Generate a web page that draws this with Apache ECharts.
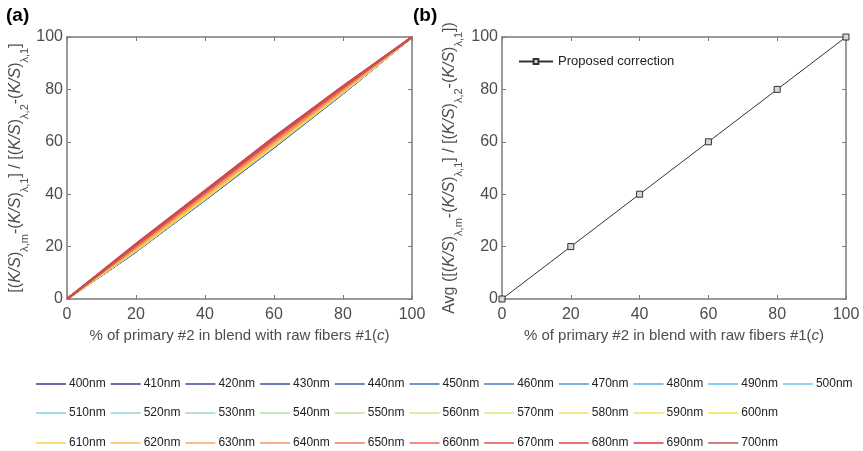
<!DOCTYPE html>
<html>
<head>
<meta charset="utf-8">
<script src="https://cdn.jsdelivr.net/npm/echarts@6/dist/echarts.min.js"></script>
<style>
  html, body { margin: 0; padding: 0; background: #fff; }
  #chart { width: 863px; height: 451px; }
</style>
</head>
<body>
<div id="chart"></div>
<script>
// x positions (% of primary #2)
var percent = [0, 20, 40, 60, 80, 100];

// panel (a): one curve per wavelength
var nm400 = [0, 18.2, 37.9, 57.9, 78.5, 100];
var nm410 = [0, 18.2, 37.9, 57.9, 78.5, 100];
var nm420 = [0, 18.3, 38.0, 58.0, 78.6, 100];
var nm430 = [0, 18.3, 38.0, 58.0, 78.6, 100];
var nm440 = [0, 18.3, 38.0, 58.1, 78.6, 100];
var nm450 = [0, 18.4, 38.1, 58.1, 78.7, 100];
var nm460 = [0, 18.4, 38.1, 58.2, 78.7, 100];
var nm470 = [0, 18.4, 38.2, 58.2, 78.7, 100];
var nm480 = [0, 18.5, 38.2, 58.3, 78.8, 100];
var nm490 = [0, 18.5, 38.3, 58.3, 78.8, 100];
var nm500 = [0, 18.5, 38.3, 58.4, 78.8, 100];
var nm510 = [0, 18.5, 38.3, 58.4, 78.9, 100];
var nm520 = [0, 18.5, 38.3, 58.4, 78.9, 100];
var nm530 = [0, 18.5, 38.4, 58.4, 78.9, 100];
var nm540 = [0, 18.6, 38.4, 58.5, 78.9, 100];
var nm550 = [0, 18.6, 38.4, 58.5, 78.9, 100];
var nm560 = [0, 18.6, 38.4, 58.5, 79.0, 100];
var nm570 = [0, 18.6, 38.5, 58.5, 79.0, 100];
var nm580 = [0, 18.6, 38.5, 58.6, 79.0, 100];
var nm590 = [0, 18.7, 38.5, 58.6, 79.0, 100];
var nm600 = [0, 18.7, 38.6, 58.7, 79.1, 100];
var nm610 = [0, 18.9, 38.8, 58.9, 79.2, 100];
var nm620 = [0, 19.1, 39.1, 59.2, 79.4, 100];
var nm630 = [0, 19.4, 39.5, 59.6, 79.7, 100];
var nm640 = [0, 19.7, 39.9, 60.0, 80.0, 100];
var nm650 = [0, 20.0, 40.3, 60.5, 80.3, 100];
var nm660 = [0, 20.3, 40.6, 60.9, 80.6, 100];
var nm670 = [0, 20.6, 40.9, 61.3, 80.9, 100];
var nm680 = [0, 20.9, 41.2, 61.6, 81.1, 100];
var nm690 = [0, 21.1, 41.4, 61.8, 81.3, 100];
var nm700 = [0, 20.6, 41.0, 61.3, 80.9, 100];

var curves = [nm400, nm410, nm420, nm430, nm440, nm450, nm460, nm470, nm480, nm490, nm500,
              nm510, nm520, nm530, nm540, nm550, nm560, nm570, nm580, nm590, nm600,
              nm610, nm620, nm630, nm640, nm650, nm660, nm670, nm680, nm690, nm700];
var names = ['400nm', '410nm', '420nm', '430nm', '440nm', '450nm', '460nm', '470nm', '480nm', '490nm', '500nm',
             '510nm', '520nm', '530nm', '540nm', '550nm', '560nm', '570nm', '580nm', '590nm', '600nm',
             '610nm', '620nm', '630nm', '640nm', '650nm', '660nm', '670nm', '680nm', '690nm', '700nm'];
var colors = ['#3a3a8c', '#3d4090', '#3f4694', '#3f4f9a', '#4060a8', '#4470b4', '#4a80c0', '#5096d2', '#58b0e4', '#60c0ea', '#6cc8ea',
              '#80d0e0', '#90d4d4', '#a0d8c0', '#b0dca8', '#c0e098', '#d0e488', '#e0e478', '#ece468', '#f6e250', '#fcdc40',
              '#fdd048', '#fdc058', '#fba860', '#f89060', '#f47860', '#ee6458', '#e85050', '#e24444', '#dc3a3a', '#c05454'];

// panel (b): averaged correction
var avgCorrection = [0, 20, 40, 60, 80, 100];

var chart = echarts.init(document.getElementById('chart'));

var font = 'Liberation Sans, Arial, sans-serif';
var axisGray = '#7a7a7a';
var labelGray = '#4d4d4d';

// rich styles for the axis titles (K/S italic, subscripts lowered)
var rich = {
  n: { fontSize: 16, fontFamily: font, color: labelGray, lineHeight: 20 },
  i: { fontSize: 16, fontFamily: font, color: labelGray, fontStyle: 'italic', lineHeight: 20 },
  s: { fontSize: 11, fontFamily: font, color: labelGray, lineHeight: 28, verticalAlign: 'bottom' }
};
var richX = {
  n: { fontSize: 15, fontFamily: font, color: labelGray },
  i: { fontSize: 15, fontFamily: font, color: labelGray, fontStyle: 'italic' }
};
var yNameA = '{n|[(}{i|K/S}{n|)}{s|λ,m}{n|-(}{i|K/S}{n|)}{s|λ,1}{n|] / [(}{i|K/S}{n|)}{s|λ,2}{n|-(}{i|K/S}{n|)}{s|λ,1}{n|]}';
var yNameB = '{n|Avg ([(}{i|K/S}{n|)}{s|λ,m}{n|-(}{i|K/S}{n|)}{s|λ,1}{n|] / [(}{i|K/S}{n|)}{s|λ,2}{n|-(}{i|K/S}{n|)}{s|λ,1}{n|])}';
var xName = '{n|% of primary #2 in blend with raw fibers #1(}{i|c}{n|)}';

function mainX(grid) {
  return {
    type: 'value', gridIndex: grid, min: 0, max: 100, interval: 20,
    name: xName, nameLocation: 'middle', nameGap: 23,
    nameTextStyle: { rich: richX },
    axisLine: { show: true, onZero: false, lineStyle: { color: axisGray, width: 1.5 } },
    axisTick: { show: true, inside: true, length: 4, lineStyle: { color: axisGray } },
    axisLabel: { color: labelGray, fontSize: 16, fontFamily: font, margin: 8 },
    splitLine: { show: false }
  };
}
function mainY(grid, name, gap) {
  return {
    type: 'value', gridIndex: grid, min: 0, max: 100, interval: 20,
    name: name, nameLocation: 'middle', nameGap: gap, nameRotate: 90,
    nameTextStyle: { rich: rich },
    axisLine: { show: true, onZero: false, lineStyle: { color: axisGray, width: 1.5 } },
    axisTick: { show: true, inside: true, length: 4, lineStyle: { color: axisGray } },
    axisLabel: { color: labelGray, fontSize: 16, fontFamily: font, margin: 4 },
    splitLine: { show: false }
  };
}
function boxX(grid) {
  return {
    type: 'value', gridIndex: grid, position: 'top', min: 0, max: 100, interval: 20,
    axisLine: { show: true, onZero: false, lineStyle: { color: axisGray, width: 1.5 } },
    axisTick: { show: true, inside: true, length: 4, lineStyle: { color: axisGray } },
    axisLabel: { show: false }, splitLine: { show: false }
  };
}
function boxY(grid) {
  return {
    type: 'value', gridIndex: grid, position: 'right', min: 0, max: 100, interval: 20,
    axisLine: { show: true, onZero: false, lineStyle: { color: axisGray, width: 1.5 } },
    axisTick: { show: true, inside: true, length: 4, lineStyle: { color: axisGray } },
    axisLabel: { show: false }, splitLine: { show: false }
  };
}

var series = [];
for (var k = 0; k < curves.length; k++) {
  series.push({
    name: names[k], type: 'line', xAxisIndex: 0, yAxisIndex: 0,
    data: percent.map(function (p, j) { return [p, curves[k][j]]; }),
    showSymbol: false, symbol: 'none', silent: true,
    lineStyle: { color: colors[k], width: 2 },
    itemStyle: { color: colors[k] }
  });
}
series.push({
  name: 'Proposed correction', type: 'line', xAxisIndex: 2, yAxisIndex: 2,
  data: percent.map(function (p, j) { return [p, avgCorrection[j]]; }),
  symbol: 'rect', symbolSize: 6,
  lineStyle: { color: '#333', width: 1 },
  itemStyle: { color: '#d8d8d8', borderColor: '#333', borderWidth: 1 }
});

function legendRow(items, top) {
  return {
    data: items, left: 31, top: top, orient: 'horizontal',
    icon: 'rect', itemWidth: 30, itemHeight: 1.5, itemGap: 5,
    textStyle: { fontSize: 12, fontFamily: font, color: '#222', padding: [0, 0, 0, -2] },
    selectedMode: false
  };
}

var option = {
  animation: false,
  textStyle: { fontFamily: font },
  grid: [
    { left: 67, top: 37, width: 345, height: 262 },
    { left: 502, top: 37, width: 344, height: 262 }
  ],
  xAxis: [mainX(0), boxX(0), mainX(1), boxX(1)],
  yAxis: [mainY(0, yNameA, 37), boxY(0), mainY(1, yNameB, 38), boxY(1)],
  legend: [
    legendRow(names.slice(0, 11), 373),
    legendRow(names.slice(11, 21), 402),
    legendRow(names.slice(21, 31), 432),
    {
      data: ['Proposed correction'], left: 513, top: 50,
      itemWidth: 34, itemHeight: 6, itemGap: 0,
      textStyle: { fontSize: 13, fontFamily: font, color: '#222' },
      selectedMode: false
    }
  ],
  graphic: [
    { type: 'text', left: 6, top: 6, style: { text: '(a)', font: 'bold 19px ' + font, fill: '#000' } },
    { type: 'text', left: 413, top: 6, style: { text: '(b)', font: 'bold 19px ' + font, fill: '#000' } }
  ],
  series: series
};

chart.setOption(option);
</script>
</body>
</html>
